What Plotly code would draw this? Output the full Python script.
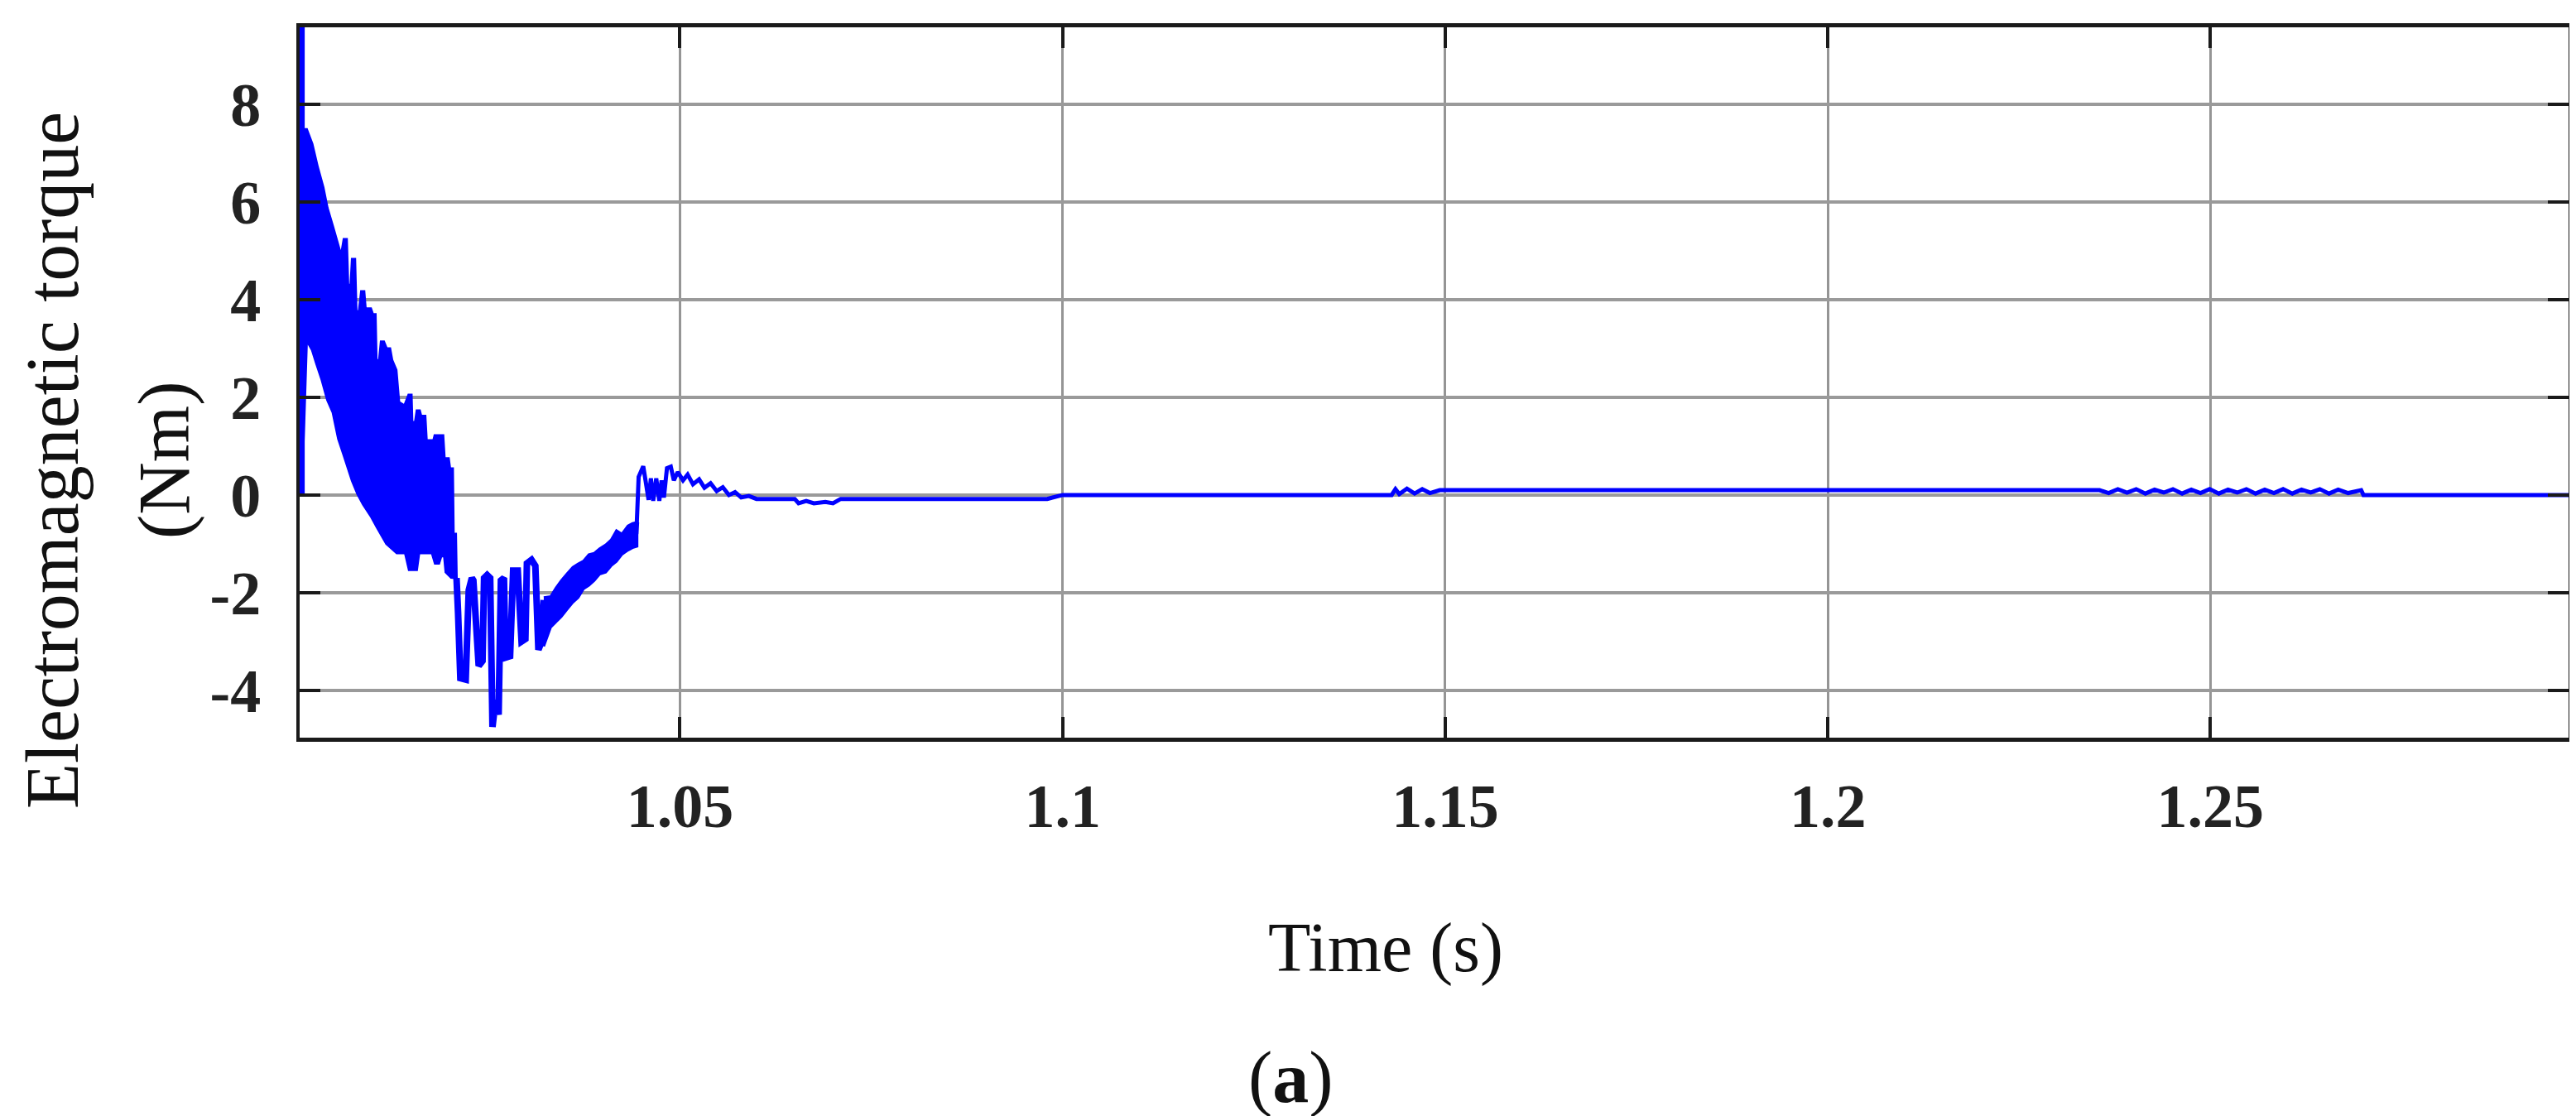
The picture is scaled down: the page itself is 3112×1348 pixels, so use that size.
import plotly.graph_objects as go

# ---------------- data ----------------
# dense start-up band (upper / lower envelopes), incl. the initial spike column
band_t_up = [1.0002, 1.0002, 1.0008, 1.0008, 1.00122, 1.00194, 1.00266, 1.00338, 1.00392,
             1.00464, 1.00518, 1.00572, 1.00608, 1.00644, 1.00662, 1.00698, 1.00716,
             1.00752, 1.00770, 1.00806, 1.00836, 1.00872, 1.00890, 1.00960, 1.00986,
             1.01020, 1.01032, 1.01070, 1.01094, 1.01130, 1.01166, 1.01210, 1.01238,
             1.01292, 1.01328, 1.01400, 1.01454, 1.01490, 1.01500, 1.01540, 1.01562,
             1.01598, 1.01616, 1.01670, 1.01688, 1.01780, 1.01796, 1.01904, 1.01922,
             1.01976, 1.01994, 1.02030, 1.02040, 1.02070, 1.02080]
band_v_up = [0.00, 10.5, 10.5, 7.49, 7.49, 7.19, 6.71, 6.30, 5.88,
             5.50, 5.20, 4.90, 5.24, 5.24, 4.30, 4.30, 4.83,
             4.83, 3.76, 3.76, 4.17, 4.17, 3.82, 3.82, 3.70,
             3.70, 2.76, 2.76, 3.14, 3.14, 3.00, 3.00, 2.76,
             2.56, 1.90, 1.83, 2.05, 2.05, 1.49, 1.49, 1.73,
             1.73, 1.62, 1.62, 1.12, 1.12, 1.22, 1.22, 0.75,
             0.75, 0.54, 0.54, -0.80, -0.80, -1.70]
band_t_lo = [1.0008, 1.0008, 1.00122, 1.00194, 1.00248, 1.00320, 1.00392, 1.00464,
             1.00536, 1.00608, 1.00716, 1.00788, 1.00860, 1.00968, 1.01040, 1.01164,
             1.01300, 1.01410, 1.01460, 1.01560, 1.01590, 1.01760, 1.01800, 1.01850,
             1.01880, 1.01920, 1.01940, 1.02010, 1.02080]
band_v_lo = [0.00, 1.10, 3.17, 2.97, 2.70, 2.36, 1.95, 1.69,
             1.15, 0.81, 0.29, 0.02, -0.19, -0.45, -0.66, -1.00,
             -1.19, -1.19, -1.53, -1.53, -1.19, -1.19, -1.40, -1.40,
             -1.25, -1.25, -1.58, -1.69, -1.70]

# recovering ramp (dense band)
ramp_t = [1.0322, 1.0331, 1.0338, 1.0345, 1.0352, 1.0360, 1.0367, 1.0374, 1.0381,
          1.0388, 1.0395, 1.0403, 1.0410, 1.0417, 1.0424, 1.0432, 1.0438, 1.0444]
ramp_up = [-2.10, -2.08, -1.90, -1.75, -1.62, -1.48, -1.41, -1.35, -1.22,
           -1.19, -1.10, -1.02, -0.92, -0.73, -0.80, -0.63, -0.58, -0.56]
ramp_lo = [-3.10, -2.71, -2.60, -2.49, -2.35, -2.20, -2.10, -1.92, -1.85,
           -1.75, -1.62, -1.58, -1.45, -1.36, -1.22, -1.13, -1.08, -1.05]

# spiky dip after the band
dip_t = [1.02080, 1.02100, 1.02130, 1.02200, 1.02240, 1.02280, 1.02300, 1.02370,
         1.02420, 1.02440, 1.02480, 1.02520, 1.02550, 1.02590, 1.02630, 1.02660,
         1.02700, 1.02720, 1.02780, 1.02820, 1.02880, 1.02930, 1.02980, 1.03000,
         1.03060, 1.03110, 1.03150, 1.03180, 1.03220]
dip_v = [-1.70, -2.40, -3.75, -3.78, -1.95, -1.70, -1.75, -3.50,
         -3.40, -1.70, -1.64, -1.70, -4.75, -4.20, -4.50, -1.75,
         -1.70, -3.33, -3.30, -1.55, -1.55, -3.00, -2.95, -1.40,
         -1.33, -1.45, -3.17, -3.05, -2.15]

# step back up, settling and steady state
tail_t = [1.04430, 1.04460, 1.04520, 1.04550, 1.04590, 1.04620, 1.04650, 1.04690,
          1.04730, 1.04760, 1.04790, 1.04830, 1.04880, 1.04920, 1.04970, 1.05040,
          1.05100, 1.05170, 1.05250, 1.05320, 1.05400, 1.05480, 1.05560, 1.05640,
          1.05720, 1.05800, 1.05900, 1.06000, 1.06500, 1.06550, 1.06650, 1.06750,
          1.06900, 1.07000, 1.07100, 1.09800, 1.10000, 1.14300, 1.14350, 1.14400,
          1.14500, 1.14600, 1.14700, 1.14800, 1.14930, 1.23550, 1.23670, 1.23790,
          1.23910, 1.24030, 1.24150, 1.24270, 1.24390, 1.24510, 1.24630, 1.24750,
          1.24870, 1.24990, 1.25110, 1.25230, 1.25350, 1.25470, 1.25590, 1.25710,
          1.25830, 1.25950, 1.26070, 1.26190, 1.26310, 1.26430, 1.26550, 1.26670,
          1.26800, 1.26970, 1.27000, 1.29700]
tail_v = [-0.80, 0.37, 0.59, 0.30, -0.10, 0.34, -0.12, 0.34,
          -0.12, 0.30, -0.05, 0.55, 0.58, 0.30, 0.47, 0.30,
          0.42, 0.22, 0.32, 0.15, 0.24, 0.08, 0.16, 0.00,
          0.06, -0.05, -0.02, -0.08, -0.08, -0.17, -0.12, -0.17,
          -0.14, -0.17, -0.08, -0.08, 0.00, 0.00, 0.12, 0.02,
          0.13, 0.03, 0.12, 0.04, 0.10, 0.10, 0.04, 0.12,
          0.05, 0.12, 0.03, 0.11, 0.05, 0.12, 0.03, 0.11,
          0.04, 0.12, 0.03, 0.11, 0.05, 0.12, 0.03, 0.11,
          0.04, 0.12, 0.03, 0.11, 0.05, 0.12, 0.03, 0.11,
          0.04, 0.10, 0.00, 0.00]

x_tickvals = [1.05, 1.1, 1.15, 1.2, 1.25]
x_ticktext = ["1.05", "1.1", "1.15", "1.2", "1.25"]
y_tickvals = [-4, -2, 0, 2, 4, 6, 8]
y_ticktext = ["-4", "-2", "0", "2", "4", "6", "8"]

x_title = "Time (s)"
y_title_1 = "Electromagnetic torque"
y_title_2 = "(Nm)"
panel = "(<b>a</b>)"

# ---------------- figure ----------------
BLUE = "#0000FF"
W, H = 3112, 1348
L, R, T, B = 354, 17, 25, 465
pw, ph = W - L - R, H - T - B

fig = go.Figure()

fig.add_trace(go.Scatter(
    x=band_t_up + band_t_lo[::-1], y=band_v_up + band_v_lo[::-1],
    mode="lines", fill="toself", fillcolor=BLUE,
    line=dict(color=BLUE, width=3, simplify=False), hoverinfo="skip", showlegend=False))

fig.add_trace(go.Scatter(
    x=ramp_t + ramp_t[::-1], y=ramp_up + ramp_lo[::-1],
    mode="lines", fill="toself", fillcolor=BLUE,
    line=dict(color=BLUE, width=3, simplify=False), hoverinfo="skip", showlegend=False))

fig.add_trace(go.Scatter(
    x=dip_t, y=dip_v, mode="lines",
    line=dict(color=BLUE, width=8, simplify=False), showlegend=False))

fig.add_trace(go.Scatter(
    x=[ramp_t[-1]] + tail_t, y=[ramp_up[-1]] + tail_v, mode="lines",
    line=dict(color=BLUE, width=5, simplify=False), showlegend=False))

tickfont = dict(family="Liberation Serif", size=74, color="#222222", weight="bold")

fig.update_xaxes(
    range=[1.0003, 1.2968], tickvals=x_tickvals, ticktext=x_ticktext,
    showgrid=True, gridcolor="#959595", gridwidth=3,
    zeroline=False, showline=True, linecolor="#1a1a1a", linewidth=5,
    mirror="ticks", ticks="inside", ticklen=25, tickwidth=4, tickcolor="#1a1a1a",
    tickfont=tickfont, ticklabelstandoff=14)

fig.update_yaxes(
    range=[-4.97, 9.58], tickvals=y_tickvals, ticktext=y_ticktext,
    showgrid=True, gridcolor="#9a9a9a", gridwidth=4,
    zeroline=False, showline=True, linecolor="#1a1a1a", linewidth=4,
    mirror="ticks", ticks="inside", ticklen=25, tickwidth=4, tickcolor="#1a1a1a",
    tickfont=tickfont, ticklabelstandoff=28)

def px_x(p):
    return (p - L) / pw

def px_y(p):
    return (H - B - p) / ph

title_font = dict(family="Liberation Serif", color="#111111")
fig.add_annotation(text=y_title_1, xref="paper", yref="paper",
                   x=px_x(55), y=px_y(548), textangle=-90, showarrow=False,
                   xanchor="center", yanchor="middle",
                   font=dict(size=90, **title_font))
fig.add_annotation(text=y_title_2, xref="paper", yref="paper",
                   x=px_x(190), y=px_y(548), textangle=-90, showarrow=False,
                   xanchor="center", yanchor="middle",
                   font=dict(size=88, **title_font))
fig.add_annotation(text=x_title, xref="paper", yref="paper",
                   x=px_x(1666), y=px_y(1137), showarrow=False,
                   xanchor="center", yanchor="middle",
                   font=dict(size=84, **title_font))
fig.add_annotation(text=panel, xref="paper", yref="paper",
                   x=px_x(1551), y=px_y(1293), showarrow=False,
                   xanchor="center", yanchor="middle",
                   font=dict(size=88, **title_font))

fig.update_layout(
    width=W, height=H, autosize=False,
    margin=dict(l=L, r=R, t=T, b=B, pad=0),
    paper_bgcolor="white", plot_bgcolor="white",
    showlegend=False)

fig.write_html("out.html")
